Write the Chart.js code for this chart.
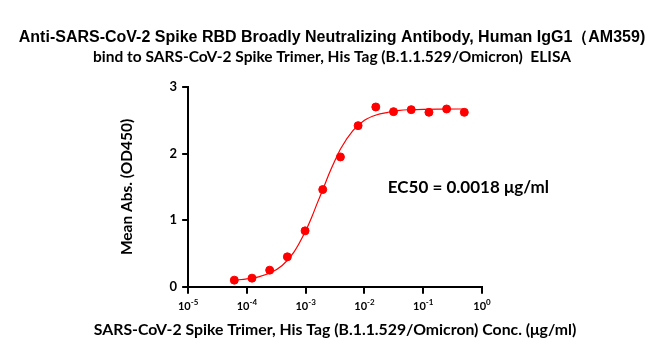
<!DOCTYPE html>
<html>
<head>
<meta charset="utf-8">
<script src="https://cdn.jsdelivr.net/npm/chart.js@4"></script>
<style>
  html, body { margin: 0; padding: 0; background: #fff; }
  canvas { display: block; }
</style>
</head>
<body>
<canvas id="elisaChart" width="664" height="360"></canvas>
<script>
// measured points (2-fold dilutions, ug/ml)
const concentrations = [0.000061, 0.000122, 0.000244, 0.000488, 0.000977, 0.00195, 0.0039, 0.0078, 0.0156, 0.03125, 0.0625, 0.125, 0.25, 0.5];
const meanAbs = [0.10, 0.13, 0.25, 0.45, 0.84, 1.46, 1.95, 2.42, 2.70, 2.63, 2.66, 2.62, 2.67, 2.62];

// fitted curve
const curveConc = [0.000062, 0.0001, 0.000158, 0.000251, 0.000398, 0.000631, 0.001, 0.00126, 0.00158, 0.002, 0.00251, 0.00316, 0.00398, 0.00631, 0.01, 0.0158, 0.0251, 0.0398, 0.0631, 0.1, 0.2, 0.5];
const curveAbs = [0.10, 0.12, 0.15, 0.21, 0.32, 0.52, 0.84, 1.04, 1.26, 1.48, 1.70, 1.90, 2.08, 2.34, 2.50, 2.58, 2.62, 2.65, 2.66, 2.665, 2.668, 2.67];

const xTickExponents = [-5, -4, -3, -2, -1, 0];
const yTicks = [0, 1, 2, 3];

const titleLine1 = 'Anti-SARS-CoV-2 Spike RBD Broadly Neutralizing Antibody, Human IgG1\uFF08AM359)';
const titleLine2 = 'bind to SARS-CoV-2 Spike Trimer, His Tag (B.1.1.529/Omicron)  ELISA';
const xTitle = 'SARS-CoV-2 Spike Trimer, His Tag (B.1.1.529/Omicron) Conc. (\u03BCg/ml)';
const yTitle = 'Mean Abs. (OD450)';
const ec50Label = 'EC50 = 0.0018 \u03BCg/ml';

const labelFont = 'Lato, "Open Sans", sans-serif';

// titles, power-of-ten labels, x title and EC50 note
const textPlugin = {
    id: 'textPlugin',
    afterDraw(chart) {
        const ctx = chart.ctx;
        const xs = chart.scales.x;
        const ys = chart.scales.y;
        ctx.save();
        ctx.fillStyle = '#000';
        ctx.textAlign = 'center';
        ctx.textBaseline = 'middle';
        ctx.font = 'bold 16px "Liberation Sans", Arial, sans-serif';
        ctx.fillText(titleLine1, chart.width / 2, 38);
        ctx.font = 'bold 15.5px ' + labelFont;
        ctx.fillText(titleLine2, chart.width / 2, 57);

        // x title centred under the plot
        ctx.font = 'bold 15.8px ' + labelFont;
        ctx.fillText(xTitle, (xs.left + xs.right) / 2, xs.top + 43);

        // x tick labels as 10 with superscript exponent
        const base = xs.top + 23;
        xTickExponents.forEach(e => {
            const px = xs.getPixelForValue(Math.pow(10, e));
            const exp = e === 0 ? '0' : '-' + Math.abs(e);
            ctx.font = 'bold 11px ' + labelFont;
            const w1 = ctx.measureText('10').width;
            ctx.font = 'bold 8px ' + labelFont;
            const w2 = ctx.measureText(exp).width;
            const start = px - (w1 + w2) / 2;
            ctx.textAlign = 'left';
            ctx.textBaseline = 'alphabetic';
            ctx.font = 'bold 11px ' + labelFont;
            ctx.fillText('10', start, base);
            ctx.font = 'bold 8px ' + labelFont;
            ctx.fillText(exp, start + w1, base - 5);
        });

        ctx.textAlign = 'left';
        ctx.textBaseline = 'middle';
        ctx.font = 'bold 17px ' + labelFont;
        ctx.fillText(ec50Label, xs.getPixelForValue(0.025), ys.getPixelForValue(1.49));
        ctx.restore();
    }
};

const ctx = document.getElementById('elisaChart').getContext('2d');
new Chart(ctx, {
    type: 'scatter',
    data: {
        datasets: [
            {
                label: 'fit',
                data: curveConc.map((c, i) => ({ x: c, y: curveAbs[i] })),
                showLine: true,
                borderColor: '#ff0000',
                borderWidth: 1.2,
                pointRadius: 0,
                cubicInterpolationMode: 'monotone'
            },
            {
                label: 'Mean Abs.',
                data: concentrations.map((c, i) => ({ x: c, y: meanAbs[i] })),
                backgroundColor: '#ff0000',
                borderColor: '#ff0000',
                pointRadius: 4,
                showLine: false
            }
        ]
    },
    options: {
        responsive: false,
        animation: false,
        layout: {
            padding: { top: 87, left: 114, right: 182, bottom: 45 }
        },
        plugins: {
            legend: { display: false },
            tooltip: { enabled: false }
        },
        scales: {
            x: {
                type: 'logarithmic',
                min: 1e-5,
                max: 1,
                afterBuildTicks: scale => {
                    scale.ticks = xTickExponents.map(e => ({ value: Math.pow(10, e) }));
                },
                grid: { drawOnChartArea: false, color: '#000', lineWidth: 2, tickLength: 7 },
                border: { color: '#000', width: 2 },
                ticks: {
                    color: 'rgba(0,0,0,0)',
                    font: { size: 11, weight: 'bold' },
                    callback: v => '10-5',
                    maxRotation: 0,
                    padding: 4
                }
            },
            y: {
                min: 0,
                max: 3,
                afterBuildTicks: scale => {
                    scale.ticks = yTicks.map(v => ({ value: v }));
                },
                grid: { drawOnChartArea: false, color: '#000', lineWidth: 2, tickLength: 6 },
                border: { color: '#000', width: 2 },
                ticks: {
                    color: '#000',
                    font: { family: labelFont, size: 13, weight: 'bold' },
                    padding: 5
                },
                title: {
                    display: true,
                    text: yTitle,
                    color: '#000',
                    font: { family: labelFont, size: 15.5, weight: 'bold' },
                    padding: { top: 4, bottom: 28 }
                }
            }
        }
    },
    plugins: [textPlugin]
});
</script>
</body>
</html>
